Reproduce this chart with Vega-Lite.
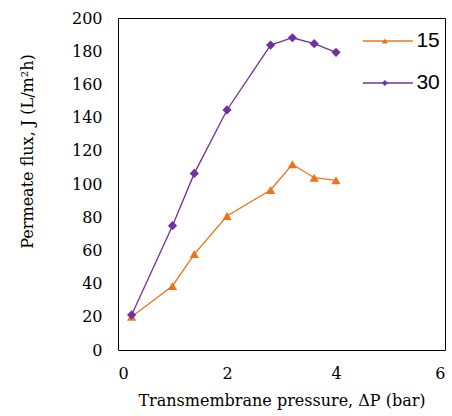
{
  "$schema": "https://vega.github.io/schema/vega-lite/v6.json",
  "width": 327,
  "height": 332,
  "autosize": {"type": "none"},
  "padding": {"left": 118, "top": 18, "right": 7, "bottom": 66},
  "background": "white",
  "config": {
    "view": {"stroke": "black", "strokeWidth": 1},
    "axis": {
      "grid": false,
      "ticks": false,
      "domain": false,
      "labelFont": "DejaVu Serif",
      "labelFontSize": 16,
      "labelColor": "black",
      "titleFont": "DejaVu Serif",
      "titleFontSize": 16,
      "titleFontWeight": "normal",
      "titleColor": "black"
    }
  },
  "data": {
    "values": [
      {"p": 0.25, "flux": 20, "s": "15"},
      {"p": 1.0, "flux": 38.6, "s": "15"},
      {"p": 1.4, "flux": 57.8, "s": "15"},
      {"p": 2.0, "flux": 80.7, "s": "15"},
      {"p": 2.8, "flux": 96.4, "s": "15"},
      {"p": 3.2, "flux": 111.9, "s": "15"},
      {"p": 3.6, "flux": 103.8, "s": "15"},
      {"p": 4.0, "flux": 102.2, "s": "15"},
      {"p": 0.25, "flux": 21.1, "s": "30"},
      {"p": 1.0, "flux": 74.9, "s": "30"},
      {"p": 1.4, "flux": 106.4, "s": "30"},
      {"p": 2.0, "flux": 144.6, "s": "30"},
      {"p": 2.8, "flux": 183.7, "s": "30"},
      {"p": 3.2, "flux": 188.1, "s": "30"},
      {"p": 3.6, "flux": 184.5, "s": "30"},
      {"p": 4.0, "flux": 179.3, "s": "30"}
    ]
  },
  "encoding": {
    "x": {
      "field": "p",
      "type": "quantitative",
      "scale": {"domain": [0, 6], "nice": false},
      "axis": {"values": [0, 2, 4, 6], "labelPadding": 15, "title": "Transmembrane pressure, ΔP (bar)", "titlePadding": 11}
    },
    "y": {
      "field": "flux",
      "type": "quantitative",
      "scale": {"domain": [0, 200], "nice": false},
      "axis": {
        "values": [0, 20, 40, 60, 80, 100, 120, 140, 160, 180, 200],
        "labelPadding": 16,
        "title": "Permeate flux, J (L/m²h)",
        "titleX": -86,
        "titleY": 133,
        "titleBaseline": "alphabetic",
        "titleAlign": "center",
        "titleAngle": -90
      }
    }
  },
  "layer": [
    {
      "mark": {"type": "line", "strokeWidth": 1.3},
      "encoding": {
        "color": {
          "field": "s",
          "type": "nominal",
          "scale": {"domain": ["15", "30"], "range": ["#EC7418", "#7030A0"]},
          "legend": {
            "orient": "none",
            "legendX": 259.4,
            "legendY": 12.5,
            "title": null,
            "padding": 0,
            "symbolType": "M-5,0H5",
            "symbolSize": 100,
            "symbolStrokeWidth": 1.3,
            "labelFont": "Liberation Sans",
            "labelFontSize": 21,
            "labelColor": "black",
            "labelOffset": 18,
            "labelBaseline": "middle",
            "rowPadding": 20
          }
        }
      }
    },
    {
      "mark": {"type": "point", "filled": true, "opacity": 1, "size": 85, "strokeWidth": 0},
      "encoding": {
        "fill": {
          "field": "s",
          "type": "nominal",
          "scale": {"range": ["#EC7418", "#7030A0"]},
          "legend": {
            "orient": "none",
            "legendX": 256.4,
            "legendY": 12.5,
            "title": null,
            "padding": 0,
            "symbolSize": 36,
            "symbolStrokeWidth": 0,
            "labelFont": "Liberation Sans",
            "labelFontSize": 21,
            "labelExpr": "''",
            "labelOffset": 26,
            "labelBaseline": "middle",
            "rowPadding": 20
          }
        },
        "shape": {
          "field": "s",
          "type": "nominal",
          "scale": {"range": ["triangle-up", "diamond"]},
          "legend": {
            "orient": "none",
            "legendX": 256.4,
            "legendY": 12.5,
            "title": null,
            "padding": 0,
            "symbolSize": 36,
            "symbolStrokeWidth": 0,
            "labelFont": "Liberation Sans",
            "labelFontSize": 21,
            "labelExpr": "''",
            "labelOffset": 26,
            "labelBaseline": "middle",
            "rowPadding": 20
          }
        }
      }
    }
  ]
}
